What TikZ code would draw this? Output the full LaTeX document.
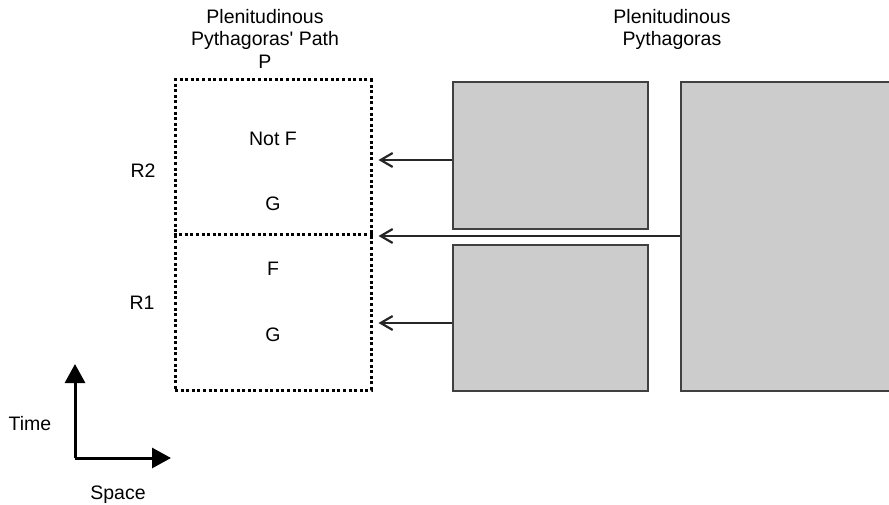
\documentclass[tikz,border=0pt]{standalone}
\usepackage{fontspec}
\setmainfont{Liberation Sans}
\usetikzlibrary{arrows.meta}
\begin{document}
\begin{tikzpicture}[x=1pt,y=-1pt,
  txt/.style={font=\fontsize{19.5}{22.5}\selectfont, align=center, inner sep=0pt},
  dotbox/.style={draw=black, line width=3pt, line cap=butt, dash pattern=on 3pt off 2.6pt, inner sep=0pt},
  graybox/.style={draw=black!75, fill=black!20, line width=1.7pt, inner sep=0pt},
  conn/.style={draw=black!85, line width=1.6pt, shorten >=6pt,
    -{Straight Barb[length=12pt,width=14pt,line width=2.2pt]}},
  axisline/.style={draw=black, line width=3pt, -{Triangle[length=19pt,width=20pt]}}]
\useasboundingbox (0,0) rectangle (889,505);
% dotted box P with divider
\node[dotbox, minimum width=196pt, minimum height=310pt] (P) at (273,235) {};
\draw[dotbox] (P.west) -- (P.east);
% gray boxes
\node[graybox, minimum width=195pt, minimum height=147pt] (U) at (550.5,155.5) {};
\node[graybox, minimum width=195pt, minimum height=146pt] (L) at (550.5,318) {};
\node[graybox, minimum width=219pt, minimum height=309pt] (B) at (790.5,236.5) {};
% connectors
\coordinate (u) at ([yshift=-4.5pt]U.west);
\coordinate (l) at ([yshift=-5pt]L.west);
\coordinate (b) at ([yshift=0.5pt]B.west);
\draw[conn] (u) -- (u -| P.east);
\draw[conn] (b) -- (b -| P.east);
\draw[conn] (l) -- (l -| P.east);
% titles
\node[txt, anchor=north] (tP) at (265,9) {Plenitudinous\\Pythagoras\textquotesingle{} Path\\P};
\node[txt, anchor=north] (tB) at (672,9) {Plenitudinous\\Pythagoras};
% labels in box
\node[txt, anchor=base] (notF) at (273,146) {Not F};
\node[txt, anchor=base] (G2) at (273,211) {G};
\node[txt, anchor=base] (F1) at (273,276) {F};
\node[txt, anchor=base] (G1) at (273,341) {G};
\node[txt, anchor=base] (R2) at (143,178) {R2};
\node[txt, anchor=base] (R1) at (142,309) {R1};
% axes
\coordinate (O) at (75,458);
\coordinate (Tt) at (75,364);
\coordinate (St) at (171,458);
\draw[axisline] (O) -- (Tt);
\draw[axisline] (O) -- (St);
\node[txt, anchor=base] (time) at (30,430) {Time};
\node[txt, anchor=base] (space) at (118,499) {Space};
\end{tikzpicture}
\end{document}
